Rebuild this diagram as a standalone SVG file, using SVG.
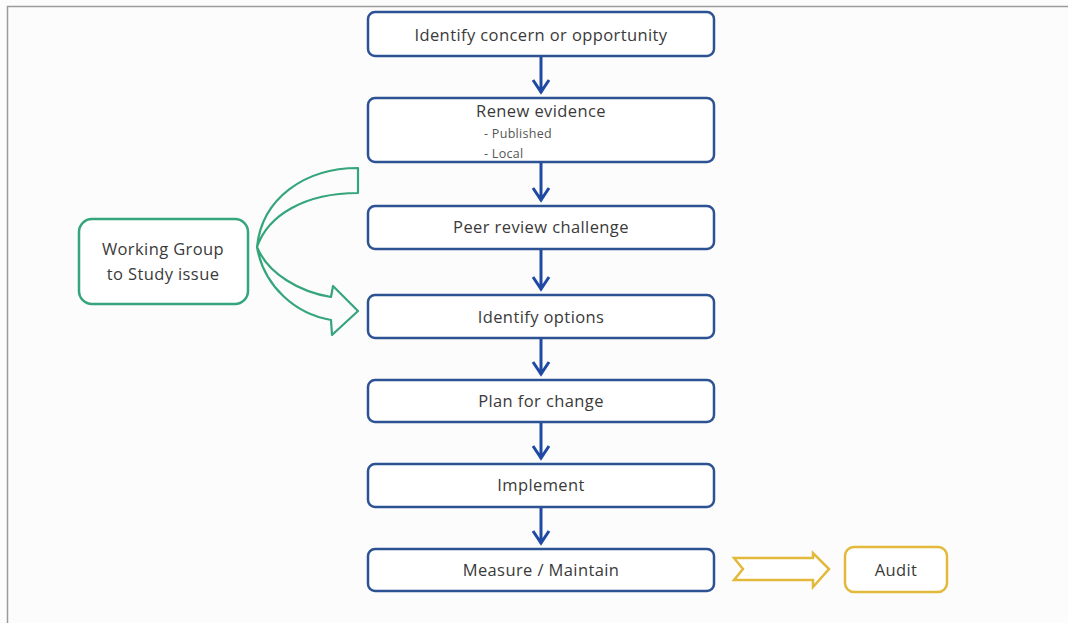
<svg xmlns="http://www.w3.org/2000/svg" width="1068" height="623" viewBox="0 0 1068 623">
<style>
.bg{fill:#fcfcfc}
.frame{stroke:#9a9a9a;stroke-width:1.5;fill:none}
.step{fill:#ffffff;stroke:#2d5294;stroke-width:2.5}
.lbl{font-family:"Open Sans","Liberation Sans",sans-serif;font-size:16.5px;letter-spacing:0.4px;fill:#3a3a3a;text-anchor:middle}
.sub{font-family:"Open Sans","Liberation Sans",sans-serif;font-size:12.5px;letter-spacing:0.3px;fill:#555555}
.flow{stroke:#1f4aa3;stroke-width:3;fill:none}
.green{fill:#ffffff;stroke:#35a57c;stroke-width:2.5}
.gold{fill:#ffffff;stroke:#e2b93b;stroke-width:2.5}
</style>
<rect class="bg" x="0" y="0" width="1068" height="623"/>
<path class="frame" d="M7.5,623 L7.5,6.5 L1068,6.5"/>

<g id="connectors">
  <g class="flow">
    <path d="M541,56 L541,93 M533,80 L541,92 L549,80"/>
    <path d="M541,162 L541,201 M533,188 L541,200 L549,188"/>
    <path d="M541,249 L541,290 M533,277 L541,289 L549,277"/>
    <path d="M541,338 L541,375 M533,362 L541,374 L549,362"/>
    <path d="M541,422 L541,459 M533,446 L541,458 L549,446"/>
    <path d="M541,507 L541,544 M533,531 L541,543 L549,531"/>
  </g>
  <path id="curved-arrow" fill="none" stroke="#35a57c" stroke-width="2.2" stroke-linejoin="round" d="M358,168 C305,168 262,198 257,247 C264,287 296,314 331,320 L332,335 L358,311 L333,286 L331,297 C300,292 268,274 257,247 C268,215 305,193 358,193 Z"/>
  <path id="gold-arrow" fill="#ffffff" stroke="#e2b93b" stroke-width="2.5" stroke-linejoin="miter" d="M734,558 L813,558 L813,553 L829,569 L813,587 L813,580 L734,580 L743,569 Z"/>
</g>

<g id="n1"><rect class="step" x="368" y="12" width="346" height="44" rx="7"/><text class="lbl" x="541" y="41">Identify concern or opportunity</text></g>
<g id="n2"><rect class="step" x="368" y="98" width="346" height="64" rx="7"/><text class="lbl" x="541" y="117">Renew evidence</text><text class="sub" x="484" y="138">- Published</text><text class="sub" x="484" y="158">- Local</text></g>
<g id="n3"><rect class="step" x="368" y="206" width="346" height="43" rx="7"/><text class="lbl" x="541" y="233">Peer review challenge</text></g>
<g id="n4"><rect class="step" x="368" y="295" width="346" height="43" rx="7"/><text class="lbl" x="541" y="323">Identify options</text></g>
<g id="n5"><rect class="step" x="368" y="380" width="346" height="42" rx="7"/><text class="lbl" x="541" y="407">Plan for change</text></g>
<g id="n6"><rect class="step" x="368" y="464" width="346" height="43" rx="7"/><text class="lbl" x="541" y="491">Implement</text></g>
<g id="n7"><rect class="step" x="368" y="549" width="346" height="42" rx="7"/><text class="lbl" x="541" y="576">Measure / Maintain</text></g>
<g id="working-group"><rect class="green" x="79" y="219" width="169" height="85" rx="13"/><text class="lbl" x="163" y="255">Working Group</text><text class="lbl" x="163" y="280">to Study issue</text></g>
<g id="audit"><rect class="gold" x="845" y="547" width="102" height="45" rx="9"/><text class="lbl" x="896" y="576">Audit</text></g>
</svg>
